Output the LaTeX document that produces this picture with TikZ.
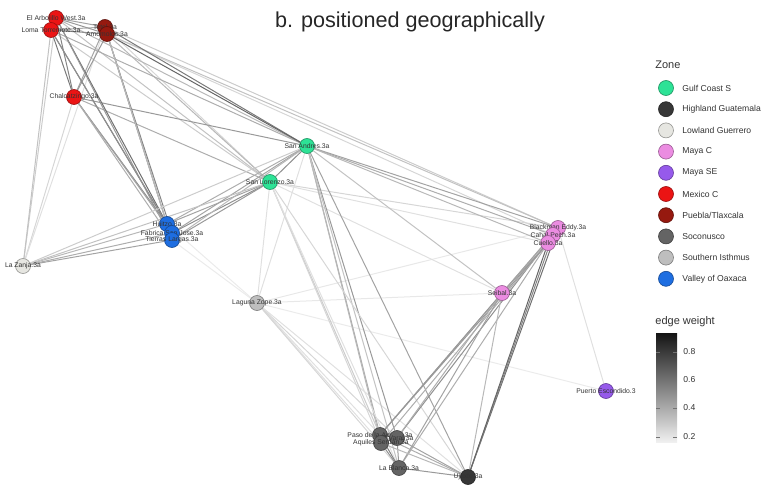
\documentclass[tikz,border=0pt]{standalone}
\usepackage{fontspec}
\setmainfont{Liberation Sans}
\usetikzlibrary{backgrounds}
\definecolor{gulf}{RGB}{45,226,150}
\definecolor{highland}{RGB}{55,55,55}
\definecolor{lowland}{RGB}{230,230,225}
\definecolor{mayac}{RGB}{235,140,225}
\definecolor{mayase}{RGB}{150,90,235}
\definecolor{mexico}{RGB}{235,20,20}
\definecolor{puebla}{RGB}{150,25,15}
\definecolor{soconusco}{RGB}{100,100,100}
\definecolor{isthmus}{RGB}{190,190,190}
\definecolor{oaxaca}{RGB}{30,110,225}
\begin{document}
\begin{tikzpicture}[x=0.5pt, y=-0.5pt,
    zona/.style={circle, fill=#1, draw=#1!65!black, line width=0.3pt, minimum size=7.5pt, inner sep=0pt},
    rotulo/.style={font=\fontsize{3.4}{4}\selectfont, text=black!80},
    legenda/.style={anchor=west, inner sep=0pt, text=black!80, font=\fontsize{4.3}{5}\selectfont},
    aresta/.style={line width=0.5pt}]
\useasboundingbox (0,0) rectangle (762,487);
% Titulo
\node[font=\fontsize{10.8}{13}\selectfont, text=black!85] (titulo) at (410,22) {b. positioned geographically};
% Mexico C e Puebla/Tlaxcala
\node[zona=mexico, label={[rotulo]center:El Arbolillo West.3a}] (ea) at (56,18) {};
\node[zona=mexico, label={[rotulo]center:Loma Torremote.3a}] (lt) at (51,30) {};
\node[zona=puebla, label={[rotulo]center:Tetel.3a}] (te) at (105,27) {};
\node[zona=puebla, label={[rotulo]center:Amomoloc.3a}] (am) at (107,34) {};
\node[zona=mexico, label={[rotulo]center:Chalcatzingo.3a}] (ch) at (74,97) {};
% Valley of Oaxaca
\node[zona=oaxaca, label={[rotulo]center:Huitzo.3a}] (hu) at (167,224) {};
\node[zona=oaxaca, label={[rotulo]center:Fabrica San Jose.3a}] (fs) at (172,233) {};
\node[zona=oaxaca, label={[rotulo]center:Tierras Largas.3a}] (tl) at (172,240) {};
% Guerrero e Istmo
\node[zona=lowland, label={[rotulo]center:La Zanja.3a}] (lz) at (23,266) {};
\node[zona=isthmus, label={[rotulo]center:Laguna Zope.3a}] (lg) at (257,303) {};
% Gulf Coast S
\node[zona=gulf, label={[rotulo]center:San Andres.3a}] (sa) at (307,146) {};
\node[zona=gulf, label={[rotulo]center:San Lorenzo.3a}] (sl) at (270,182) {};
% Maya
\node[zona=mayac, label={[rotulo]center:Blackman Eddy.3a}] (be) at (558,228) {};
\node[zona=mayac, label={[rotulo]center:Cahal Pech.3a}] (cp) at (553,235) {};
\node[zona=mayac, label={[rotulo]center:Cuello.3a}] (cu) at (548,243) {};
\node[zona=mayac, label={[rotulo]center:Seibal.3a}] (se) at (502,293) {};
\node[zona=mayase, label={[rotulo]center:Puerto Escondido.3}] (pe) at (606,391) {};
% Soconusco
\node[zona=soconusco, label={[rotulo]center:Paso de la Amada.3a}] (s1) at (380,435) {};
\node[zona=soconusco, label={[rotulo]center:El Varal.3a}] (s2) at (397,438) {};
\node[zona=soconusco, label={[rotulo]center:Aquiles Serdan.3a}] (s3) at (381,443) {};
\node[zona=soconusco, label={[rotulo]center:La Blanca.3a}] (lb) at (399,468) {};
\node[zona=highland, label={[rotulo]center:Ujuxte.3a}] (uj) at (468,477) {};
% Arestas (peso em % de preto)
\begin{pgfonlayer}{background}
\foreach \a/\b/\w in {lg/s1/15, lg/s2/20, lg/s3/15, lg/lb/20, lg/uj/15, lg/be/12, lg/se/12, lg/pe/10,
    hu/lg/10, tl/lg/10, sa/lg/15, sl/lg/15, be/pe/15, sl/be/20, sl/cu/15, sl/se/15,
    ea/lz/25, lt/lz/30, ch/lz/20, te/lz/15,
    te/be/25, am/cp/20, am/be/30,
    ea/sl/30, lt/sl/25, te/sl/20, am/sl/35, ch/sl/40,
    ea/sa/35, lt/sa/40, te/sa/65, am/sa/75, ch/sa/50,
    ea/lt/75, ea/te/45, lt/te/40, te/am/80, ea/am/50, lt/am/55,
    ea/ch/60, lt/ch/65, te/ch/45, am/ch/50,
    ea/hu/70, lt/fs/65, ea/tl/50, lt/hu/55, te/hu/45, am/fs/60, am/tl/40, te/tl/35,
    ch/hu/55, ch/fs/45, ch/tl/40,
    hu/fs/80, fs/tl/80, hu/tl/75, hu/sl/45, fs/sl/55, tl/sl/50, hu/sa/40, fs/sa/45, tl/sa/35,
    hu/lz/35, fs/lz/40, tl/lz/45, lz/sl/30, lz/sa/25,
    sa/sl/55, sa/be/45, sa/cp/40, sa/cu/35, sa/se/30,
    sa/s1/40, sa/s2/50, sa/s3/35, sa/uj/45, sa/lb/30, sl/s1/25, sl/s3/20, sl/uj/20, sl/lb/15,
    be/cp/80, cp/cu/80, be/cu/75, be/se/30, cp/se/35, cu/se/45,
    be/s1/45, cp/s2/55, cu/s3/40, be/uj/70, cp/uj/60, cu/uj/75, cu/lb/40, cu/s1/50,
    se/s1/50, se/s2/40, se/lb/45, se/uj/35,
    s1/s2/80, s1/s3/80, s2/s3/75, s1/lb/60, s2/lb/50, s3/lb/55, s1/uj/40, s2/uj/45, s3/uj/35, lb/uj/50} {
  \pgfmathtruncatemacro\p{\w*0.8}
  \draw[aresta, draw=black!\p] (\a) -- (\b);
}
\end{pgfonlayer}
% Legenda Zone
\node[anchor=west, inner sep=0pt, font=\fontsize{5.5}{6}\selectfont, text=black!80] (zonatit) at (655,65) {Zone};
\foreach \z/\c [count=\i] in {Gulf Coast S/gulf, Highland Guatemala/highland, Lowland Guerrero/lowland,
    Maya C/mayac, Maya SE/mayase, Mexico C/mexico, {Puebla/Tlaxcala}/puebla, Soconusco/soconusco,
    Southern Isthmus/isthmus, Valley of Oaxaca/oaxaca} {
  \node[zona=\c] (leg\i) at (666,{88+21.2*(\i-1)}) {};
  \node[legenda] (legtxt\i) at (682,{88+21.2*(\i-1)}) {\z};
}
% Barra edge weight
\node[anchor=west, inner sep=0pt, font=\fontsize{5.5}{6}\selectfont, text=black!80] (barratit) at (655,322) {edge weight};
\shade[top color=black!92, bottom color=black!6] (656,333) rectangle (677,442);
\foreach \v/\y [count=\k] in {0.8/352, 0.6/380, 0.4/408, 0.2/437} {
  \draw[black!55, line width=0.4pt] (656,\y) -- (660,\y) (673,\y) -- (677,\y);
  \node[legenda] (tick\k) at (683,\y) {\v};
}
\end{tikzpicture}
\end{document}
